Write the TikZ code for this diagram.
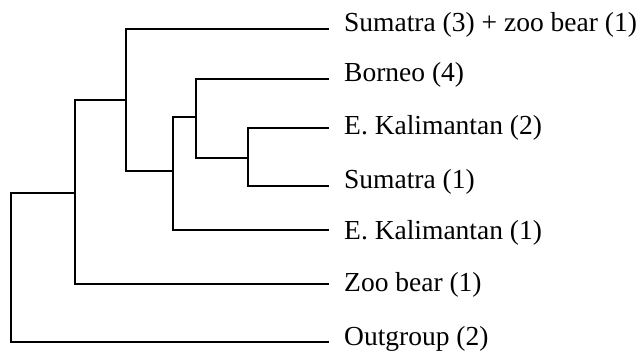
\documentclass[tikz,border=0pt]{standalone}
\usepackage{fontspec}
\setmainfont{Liberation Serif}
\begin{document}
\begin{tikzpicture}[x=1bp,y=-1bp,
  branch/.style={line width=1.5bp,line join=miter,line cap=rect},
  leaf/.style={anchor=base west,inner sep=0pt,font=\fontsize{27.5bp}{32bp}\selectfont}]
\useasboundingbox (0,0) rectangle (644,352);
% leaf labels
\node[leaf] (lS3) at (344,31) {Sumatra (3) + zoo bear (1)};
\node[leaf] (lB)  at (344,81) {Borneo (4)};
\node[leaf] (lE2) at (344,134) {E. Kalimantan (2)};
\node[leaf] (lS1) at (344,188) {Sumatra (1)};
\node[leaf] (lE1) at (344,239) {E. Kalimantan (1)};
\node[leaf] (lZ)  at (344,291) {Zoo bear (1)};
\node[leaf] (lO)  at (344,345.5) {Outgroup (2)};
% tips
\coordinate (tS3) at (328,29);
\coordinate (tB)  at (328,79);
\coordinate (tE2) at (328,128);
\coordinate (tS1) at (328,186);
\coordinate (tE1) at (328,230);
\coordinate (tZ)  at (328,284);
\coordinate (tO)  at (328,342);
% internal nodes
\coordinate (a) at (248,158);
\coordinate (b) at (196,117);
\coordinate (c) at (173,171);
\coordinate (d) at (126,100);
\coordinate (e) at (75,193);
\coordinate (r) at (11,267);
% branches
\draw[branch] (tE2) -| (a) |- (tS1);
\draw[branch] (tB) -| (b) |- (a);
\draw[branch] (b) -| (c) |- (tE1);
\draw[branch] (tS3) -| (d) |- (c);
\draw[branch] (d) -| (e) |- (tZ);
\draw[branch] (e) -| (r) |- (tO);
\end{tikzpicture}
\end{document}
